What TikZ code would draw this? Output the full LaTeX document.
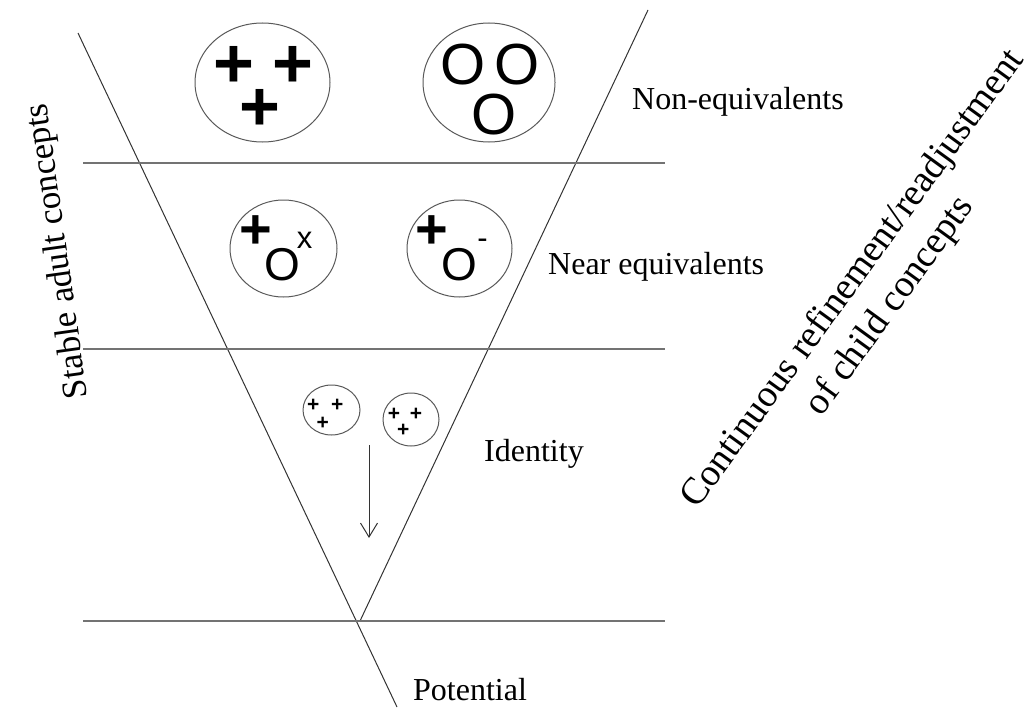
\documentclass[tikz,border=0pt]{standalone}
\usepackage{fontspec}
\setmainfont{Liberation Serif}
\newfontfamily\symfont{Liberation Sans}
\usetikzlibrary{shapes.geometric,arrows.meta}
\tikzset{
    blob/.style={draw=black!65,line width=1pt,ellipse,inner sep=0pt},
    hline/.style={draw=black!55,line width=1.1pt},
    vline/.style={draw=black!80,line width=1pt},
    levelname/.style={font=\fontsize{32}{38}\selectfont,anchor=base west,inner sep=0pt},
    bigplus/.style={font=\symfont\bfseries\fontsize{70}{70}\selectfont,inner sep=0pt},
    bigo/.style={font=\symfont\fontsize{58}{58}\selectfont,inner sep=0pt},
    midplus/.style={font=\symfont\bfseries\fontsize{56}{56}\selectfont,inner sep=0pt},
    mido/.style={font=\symfont\fontsize{46}{46}\selectfont,inner sep=0pt},
    tinymark/.style={font=\symfont\fontsize{31}{31}\selectfont,inner sep=0pt},
    smallplus/.style={font=\symfont\bfseries\fontsize{21}{21}\selectfont,inner sep=0pt},
}
\begin{document}
\begin{tikzpicture}[x=1pt,y=-1pt]
\useasboundingbox (0,0) rectangle (1035,709);
% the funnel
\coordinate (ltop) at (78,33);
\coordinate (lbot) at (397,707);
\coordinate (rtop) at (648,10);
\coordinate (rbot) at (360,621);
\draw[vline] (ltop) -- (lbot);
\draw[vline] (rtop) -- (rbot);
\foreach \y in {163,349,621}
    \draw[hline] (83,\y) -- (665,\y);
% non-equivalents
\node[blob,minimum width=135,minimum height=119] (nonplus) at (262.5,82.5) {};
\node[blob,minimum width=132,minimum height=119] (nono) at (489,82.5) {};
\foreach \x/\y [count=\i] in {234/63,293/63,259.5/105.5}
    \node[bigplus] (p\i) at (\x,\y+4) {+};
\foreach \x/\y [count=\i] in {463.5/65,517.5/65,494/114.5}
    \node[bigo] (o\i) at (\x,\y) {O};
% near equivalents
\node[blob,minimum width=107,minimum height=97] (nearx) at (283.5,248.5) {};
\node[blob,minimum width=105,minimum height=97] (nearminus) at (459.5,248.5) {};
\node[midplus] (np1) at (255.5,232.5) {+};
\node[mido] (no1) at (282.5,265) {O};
\node[tinymark] (nx) at (304.5,240) {x};
\node[midplus] (np2) at (431.5,232.5) {+};
\node[mido] (no2) at (459.5,265) {O};
\node[tinymark] (nm) at (482.5,243.5) {-};
% identity
\node[blob,minimum width=57,minimum height=50] (idleft) at (331.5,410) {};
\node[blob,minimum width=56,minimum height=53] (idright) at (411,419.5) {};
\foreach \x/\y [count=\i] in {313.3/404.3,337.3/404.3,322.7/422.3,394/412.7,416/412.7,403.3/429}
    \node[smallplus] (ip\i) at (\x,\y+1.2) {+};
\coordinate (arrtop) at (369,445);
\coordinate (arrbot) at (369,538);
\draw[black!80,line width=1pt,-{Straight Barb[length=14pt,width=17pt]}] (arrtop) -- (arrbot);
% texts
\node[levelname] (nonequiv) at (632,109) {Non-equivalents};
\node[levelname] (nearequiv) at (548,274) {Near equivalents};
\node[levelname] (identity) at (484,461) {Identity};
\node[levelname] (potential) at (413,700) {Potential};
\node[font=\fontsize{35}{40}\selectfont,rotate=98,anchor=base,inner sep=0pt] (stable) at (67,250) {Stable adult concepts};
\node[font=\fontsize{38}{46}\selectfont,rotate=54,align=center,inner sep=0pt] (refine) at (872,293) {Continuous refinement/readjustment\\of child concepts};
\end{tikzpicture}
\end{document}
